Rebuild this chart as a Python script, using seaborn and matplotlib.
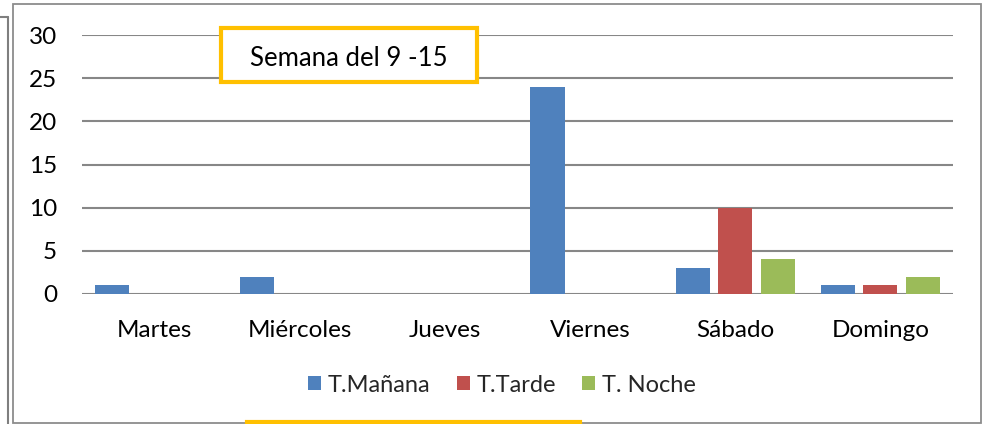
import matplotlib
matplotlib.use("Agg")
import matplotlib.pyplot as plt
import seaborn as sns
import pandas as pd
from matplotlib.patches import Rectangle
from matplotlib.lines import Line2D

days = ["Martes", "Miércoles", "Jueves", "Viernes", "Sábado", "Domingo"]
manana = [1, 2, 0, 24, 3, 1]
tarde = [0, 0, 0, 0, 10, 1]
noche = [0, 0, 0, 0, 4, 2]
series_names = ["T.Mañana", "T.Tarde", "T. Noche"]
colors = ["#4F81BD", "#C0504D", "#9BBB59"]
yticks = [0, 5, 10, 15, 20, 25, 30]
title = "Semana del 9 -15"

rows = []
for name, vals in zip(series_names, [manana, tarde, noche]):
    for d, v in zip(days, vals):
        rows.append({"day": d, "serie": name, "value": v})
df = pd.DataFrame(rows)

sns.set_theme(style="white")
plt.rcParams["font.family"] = ["Lato", "DejaVu Sans"]

W, H = 983, 424
fig = plt.figure(figsize=(W / 100, H / 100), dpi=100)
ax = fig.add_axes([82 / W, 1 - 294 / H, (953 - 82) / W, (294 - 35) / H])

sns.barplot(data=df, x="day", y="value", hue="serie", order=days,
            hue_order=series_names, palette=colors, width=0.88, gap=0.2,
            saturation=1, ax=ax, legend=True, zorder=3, edgecolor="none")

ax.set_ylim(0, 30)
ax.set_xlim(-0.5, 5.5)
ax.set_yticks(yticks)
ax.set_yticklabels([str(t) for t in yticks], fontsize=17.5, color="black")
ax.tick_params(axis="x", labelsize=17.5, colors="black", pad=19, length=0)
ax.tick_params(axis="y", length=0, pad=18)
for lab in ax.get_xticklabels():
    lab.set_color("black")
ax.set_xlabel("")
ax.set_ylabel("")
for t in yticks:
    ax.axhline(t, color="#878787", lw=1.5, zorder=1)
for s in ax.spines.values():
    s.set_visible(False)

leg = ax.legend(loc="center", bbox_to_anchor=((502 - 82) / (953 - 82), (294 - 385) / (294 - 35)),
                ncol=3, frameon=False, fontsize=17, handlelength=0.55,
                handleheight=0.55, handletextpad=0.3, columnspacing=1.1,
                borderpad=0)

def px(x, y):
    return x / W, 1 - y / H

# chart frame
fig.add_artist(Rectangle(px(13, 423), (981 - 13) / W, (423 - 4) / H,
                         transform=fig.transFigure, fill=False,
                         edgecolor="#8C8C8C", lw=1.3))
fig.add_artist(Line2D([8 / W, 8 / W], [1 - 17 / H, 0], transform=fig.transFigure,
                      color="#7F7F7F", lw=1.5))
fig.add_artist(Line2D([0, 8 / W], [1 - 17 / H, 1 - 17 / H], transform=fig.transFigure,
                      color="#7F7F7F", lw=1.5))

# title box
fig.add_artist(Rectangle(px(221, 82), (477 - 221) / W, (82 - 28) / H,
                         transform=fig.transFigure, facecolor="white",
                         edgecolor="#FFC000", lw=3, zorder=5))
fig.text(349 / W, 1 - 58 / H, title, ha="center", va="center", fontsize=18.5,
         color="black", zorder=6)

# cut-off yellow box at bottom
fig.add_artist(Rectangle(px(247, 440), (580 - 247) / W, (440 - 422) / H,
                         transform=fig.transFigure, facecolor="white",
                         edgecolor="#FFC000", lw=3, zorder=5))

fig.savefig("out.png", dpi=100)
